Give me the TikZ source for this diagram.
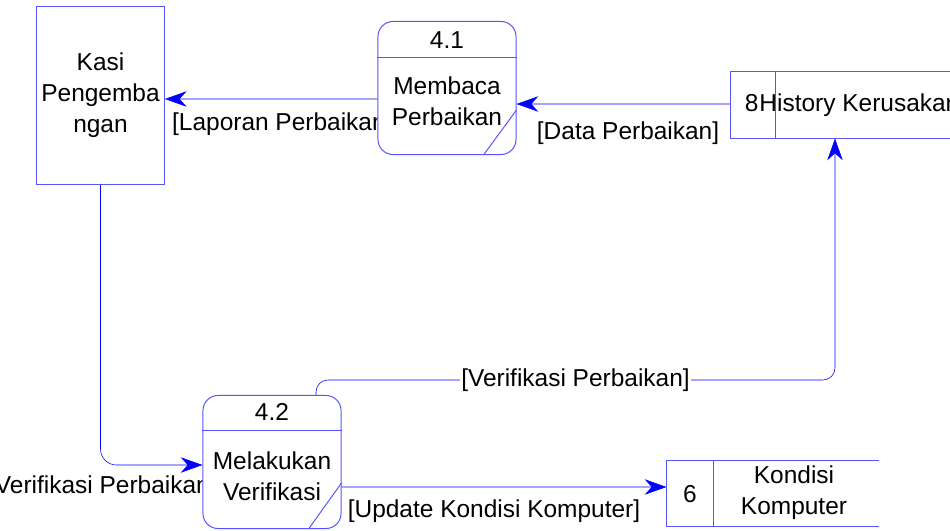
\documentclass[tikz,border=0pt]{standalone}
\usepackage{fontspec}
\setmainfont{Liberation Sans}
\usetikzlibrary{arrows.meta}
\pgfdeclarelayer{background}
\pgfsetlayers{background,main}
\definecolor{boxblue}{RGB}{85,85,255}

\begin{document}
\begin{tikzpicture}[x=0.025cm, y=-0.025cm, line width=0.7pt,
  font=\fontsize{17.4}{22}\selectfont,
  entity/.style={draw=boxblue, minimum width=3.125cm, minimum height=4.425cm, align=center},
  proc/.style={draw=boxblue, fill=white, rounded corners=0.375cm, minimum width=3.45cm, minimum height=3.325cm},
  store/.style={minimum height=1.65cm},
  flow/.style={draw=blue, -{Stealth[length=15.5pt, width=11pt, inset=5pt]}},
  lbl/.style={inner sep=0pt}]

\useasboundingbox (0,0) rectangle (950,531);

\node[entity] (kasi) at (100.5,95.5) {Kasi\\Pengemba\\ngan};

\node[proc] (pa) at (447,88) {};
\draw[boxblue] ([yshift=-0.9cm]pa.north west) -- ([yshift=-0.9cm]pa.north east);
\draw[boxblue] ([yshift=-0.55cm]pa.east) -- ([xshift=-0.825cm]pa.south east);
\node (na) at (447,40) {4.1};
\node[align=center] (ta) at (447,101) {Membaca\\Perbaikan};

\node[proc] (pb) at (272,462) {};
\draw[boxblue] ([yshift=-0.875cm]pb.north west) -- ([yshift=-0.875cm]pb.north east);
\draw[boxblue] ([yshift=-0.525cm]pb.east) -- ([xshift=-0.825cm]pb.south east);
\node (nb) at (272,412) {4.2};
\node[align=center] (tb) at (272,476) {Melakukan\\Verifikasi};

\node[store, minimum width=6cm] (dh) at (851,105) {};
\draw[boxblue] (dh.north east) -- (dh.north west) -- (dh.south west) -- (dh.south east);
\draw[boxblue] ([xshift=1.125cm]dh.north west) -- ([xshift=1.125cm]dh.south west);
\node[lbl, anchor=base east] (nh) at (759,112) {8};
\node[lbl, anchor=base west] (th) at (nh.base east) {History Kerusakan};

\node[store, minimum width=5.275cm, minimum height=1.625cm] (dk) at (772.5,493.5) {};
\draw[boxblue] (dk.north east) -- (dk.north west) -- (dk.south west) -- (dk.south east);
\draw[boxblue] ([xshift=1.175cm]dk.north west) -- ([xshift=1.175cm]dk.south west);
\node (nk) at (690,494) {6};
\node[align=center] (tk) at (794,493) {Kondisi\\Komputer};

\begin{pgfonlayer}{background}
\draw[flow] ([yshift=-0.275cm]pa.west) -- ([yshift=-0.0875cm]kasi.east)
  node[lbl, pos=1, anchor=north west, xshift=0.175cm, yshift=-0.325cm] {[Laporan Perbaikan]};
\draw[flow] ([yshift=0.025cm]dh.west) -- ([yshift=-0.4cm]pa.east)
  node[lbl, pos=0, anchor=north east, xshift=-0.275cm, yshift=-0.425cm] {[Data Perbaikan]};
\draw[flow, rounded corners=0.4cm] (kasi.south) |- ([yshift=-0.075cm]pb.west)
  node[lbl, pos=1, anchor=north east, xshift=0.36cm, yshift=-0.25cm] {[Verifikasi Perbaikan]};
\draw[flow, rounded corners=0.3cm] ([xshift=1.1cm]pb.north) -- ++(0,-15)
  -| node[lbl, pos=0.25, fill=white, inner sep=1pt] {[Verifikasi Perbaikan]} ([xshift=-0.4cm]dh.south);
\draw[flow] ([yshift=-0.625cm]pb.east) -- ([yshift=0.1625cm]dk.west)
  node[lbl, pos=0, anchor=north west, xshift=0.15cm, yshift=-0.3cm] {[Update Kondisi Komputer]};
\end{pgfonlayer}
\end{tikzpicture}
\end{document}
